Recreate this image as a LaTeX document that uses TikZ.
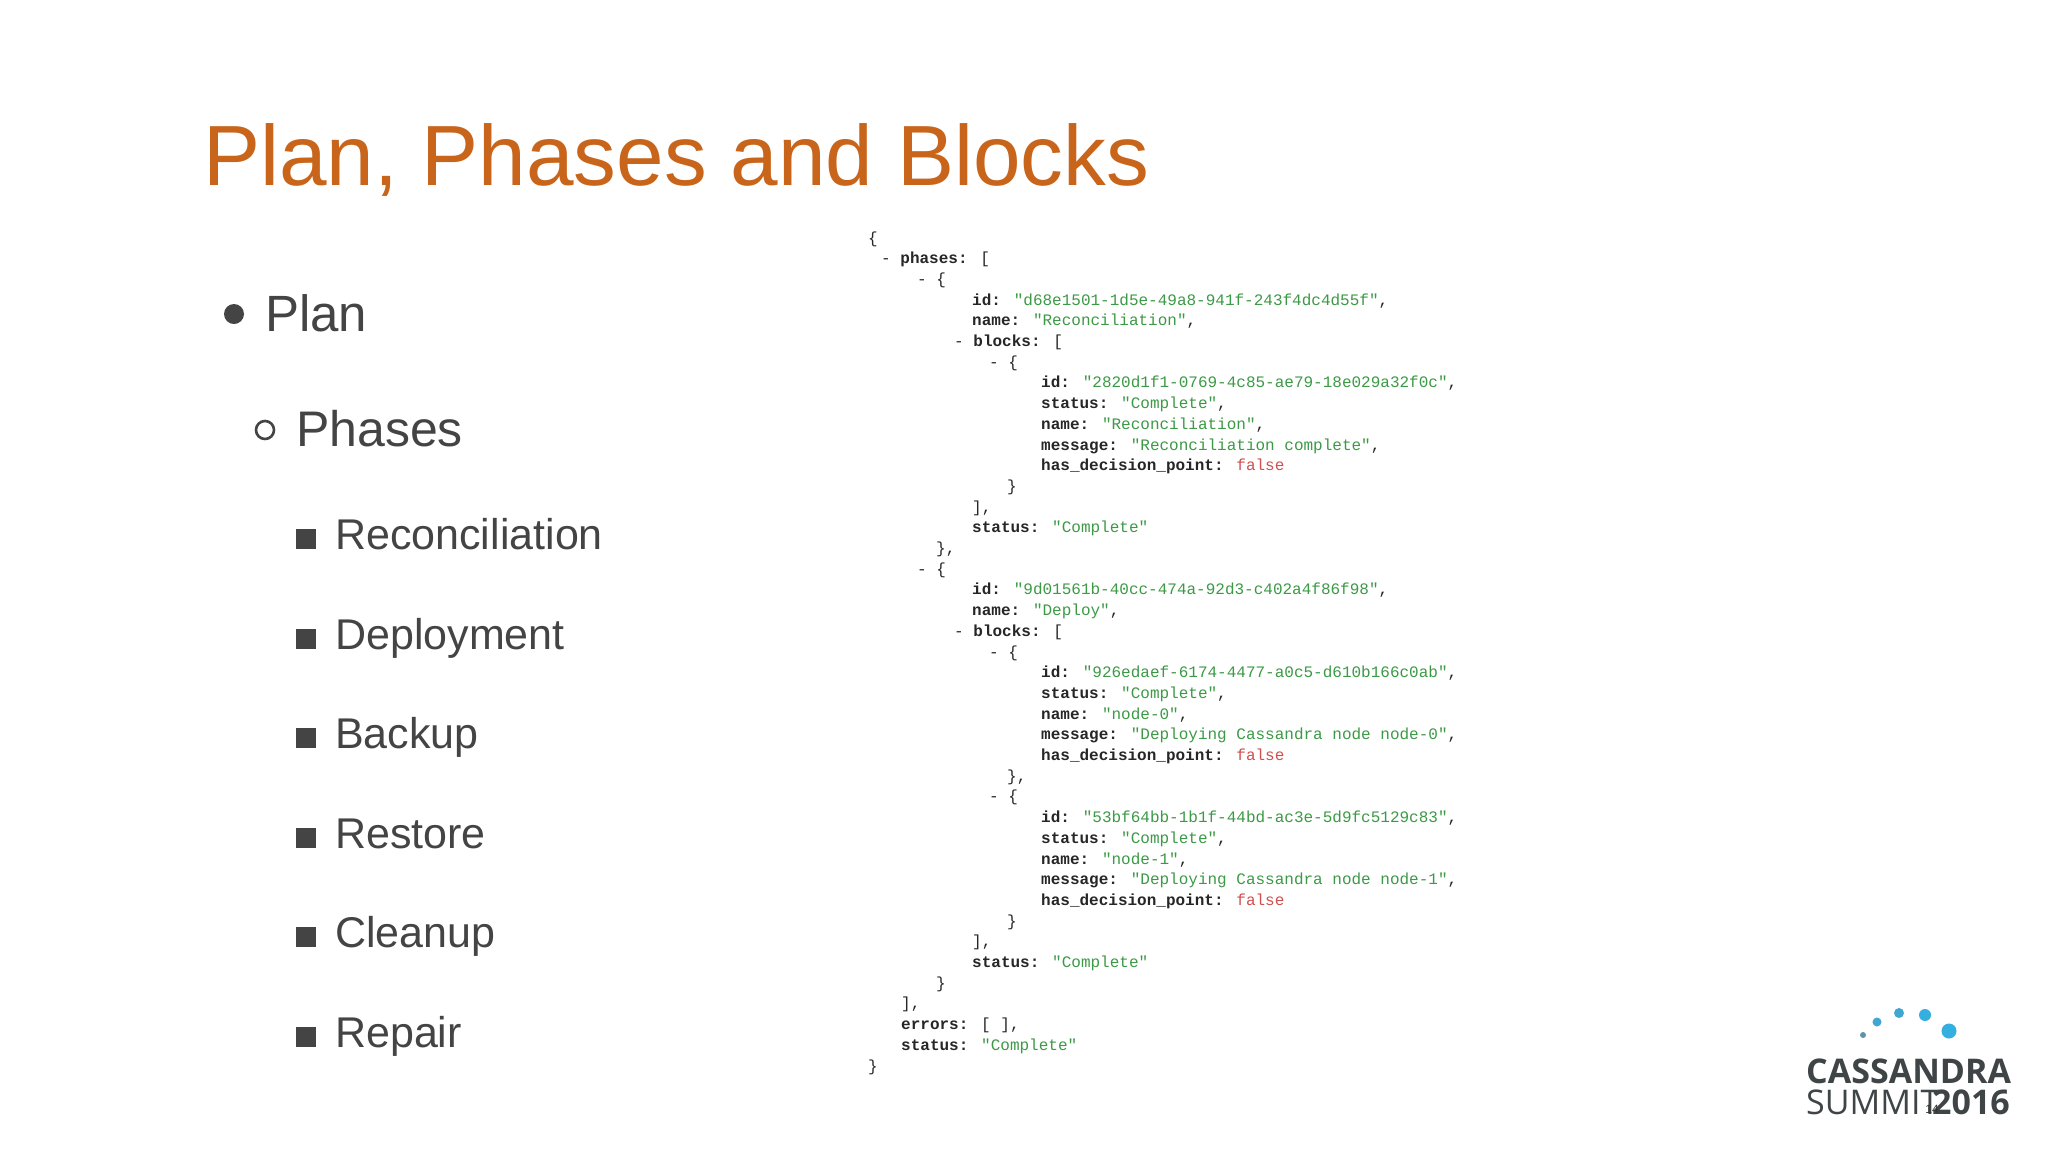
\documentclass[tikz,border=0pt]{standalone}
\usepackage{fontspec}
\setmainfont{Liberation Sans}
\newfontfamily\jmono{Liberation Mono}
\newfontfamily\logofont{Open Sans}
\definecolor{titleor}{HTML}{C8651B}
\definecolor{bodyg}{HTML}{444444}
\definecolor{jgreen}{HTML}{3C9A46}
\definecolor{jred}{HTML}{D05050}
\definecolor{logog}{HTML}{3F4447}
\definecolor{logob}{HTML}{35AEE0}
\newcommand\jk[1]{{\bfseries #1}}
\newcommand\jv[1]{\textcolor{jgreen}{#1}}
\newcommand\jf[1]{\textcolor{jred}{#1}}
\tikzset{
  jline/.style={anchor=base west,inner sep=0pt,font=\jmono\fontsize{16}{16}\selectfont,text=black!85},
  lvl1/.style={anchor=base west,inner sep=0pt,text=bodyg,font=\fontsize{51}{51}\selectfont},
  lvl3/.style={anchor=base west,inner sep=0pt,text=bodyg,font=\fontsize{43}{43}\selectfont},
  dot/.style={circle,fill=logob,inner sep=0pt}
}
\newcommand\jl[3]{\node[jline] (l#1) at (#2,{243+(#1-1)*20.7}) {#3};}
\begin{document}
\begin{tikzpicture}[x=1pt,y=-1pt]
\useasboundingbox[fill=white] (0,0) rectangle (2048,1152);
\node[anchor=base west,inner sep=0,text=titleor,font=\fontsize{85.5}{86}\selectfont] (title) at (203,185) {Plan, Phases and Blocks};
% bullets
\node[circle,fill=bodyg,inner sep=0,minimum size=20pt] (bp) at (234,314) {};
\node[lvl1] (plan) at (265,331) {Plan};
\node[circle,draw=bodyg,line width=2.6pt,inner sep=0,minimum size=18pt] (bc) at (265,430) {};
\node[lvl1,font=\fontsize{50}{50}\selectfont] (phases) at (296,446) {Phases};
\foreach \t/\y [count=\i] in {Reconciliation/549,Deployment/649,Backup/748,Restore/848,Cleanup/947,Repair/1047}{
  \node[lvl3] (s\i) at (296,\y) {\rule{20pt}{20pt}\hspace{19pt}\t};
}
% JSON
\jl{1}{868}{\{}
\jl{2}{881}{- \jk{phases:} [}
\jl{3}{917}{- \{}
\jl{4}{972}{\jk{id:} \jv{"d68e1501-1d5e-49a8-941f-243f4dc4d55f"},}
\jl{5}{972}{\jk{name:} \jv{"Reconciliation"},}
\jl{6}{954}{- \jk{blocks:} [}
\jl{7}{989}{- \{}
\jl{8}{1041}{\jk{id:} \jv{"2820d1f1-0769-4c85-ae79-18e029a32f0c"},}
\jl{9}{1041}{\jk{status:} \jv{"Complete"},}
\jl{10}{1041}{\jk{name:} \jv{"Reconciliation"},}
\jl{11}{1041}{\jk{message:} \jv{"Reconciliation complete"},}
\jl{12}{1041}{\jk{has\_decision\_point:} \jf{false}}
\jl{13}{1007}{\}}
\jl{14}{972}{],}
\jl{15}{972}{\jk{status:} \jv{"Complete"}}
\jl{16}{936}{\},}
\jl{17}{917}{- \{}
\jl{18}{972}{\jk{id:} \jv{"9d01561b-40cc-474a-92d3-c402a4f86f98"},}
\jl{19}{972}{\jk{name:} \jv{"Deploy"},}
\jl{20}{954}{- \jk{blocks:} [}
\jl{21}{989}{- \{}
\jl{22}{1041}{\jk{id:} \jv{"926edaef-6174-4477-a0c5-d610b166c0ab"},}
\jl{23}{1041}{\jk{status:} \jv{"Complete"},}
\jl{24}{1041}{\jk{name:} \jv{"node-0"},}
\jl{25}{1041}{\jk{message:} \jv{"Deploying Cassandra node node-0"},}
\jl{26}{1041}{\jk{has\_decision\_point:} \jf{false}}
\jl{27}{1007}{\},}
\jl{28}{989}{- \{}
\jl{29}{1041}{\jk{id:} \jv{"53bf64bb-1b1f-44bd-ac3e-5d9fc5129c83"},}
\jl{30}{1041}{\jk{status:} \jv{"Complete"},}
\jl{31}{1041}{\jk{name:} \jv{"node-1"},}
\jl{32}{1041}{\jk{message:} \jv{"Deploying Cassandra node node-1"},}
\jl{33}{1041}{\jk{has\_decision\_point:} \jf{false}}
\jl{34}{1007}{\}}
\jl{35}{972}{],}
\jl{36}{972}{\jk{status:} \jv{"Complete"}}
\jl{37}{936}{\}}
\jl{38}{901}{],}
\jl{39}{901}{\jk{errors:} [ ],}
\jl{40}{901}{\jk{status:} \jv{"Complete"}}
\jl{41}{868}{\}}
% logo
\node[dot,fill=logob!45!gray,minimum size=6pt] (d1) at (1863,1035) {};
\node[dot,fill=logob!85!gray,minimum size=9pt] (d2) at (1877,1022) {};
\node[dot,fill=logob!85!gray,minimum size=10pt] (d3) at (1899,1013) {};
\node[dot,minimum size=12pt] (d4) at (1925,1015) {};
\node[dot,minimum size=15pt] (d5) at (1949,1031) {};
\node[anchor=base west,inner sep=0,text=logog,font=\logofont\bfseries\fontsize{34}{34}\selectfont] (cass) at (1806,1083) {CASSANDRA};
\node[anchor=base west,inner sep=0,text=logog,font=\logofont\fontsize{34}{34}\selectfont] (summit) at (1806,1114) {SUMMIT};
\node[anchor=base east,inner sep=0,text=logog,font=\logofont\bfseries\fontsize{34}{34}\selectfont] (yr) at (2010,1114) {2016};
\node[anchor=base,inner sep=0,text=black!80,font=\fontsize{12}{12}\selectfont] (pg) at (1932,1113) {14};
\end{tikzpicture}
\end{document}
